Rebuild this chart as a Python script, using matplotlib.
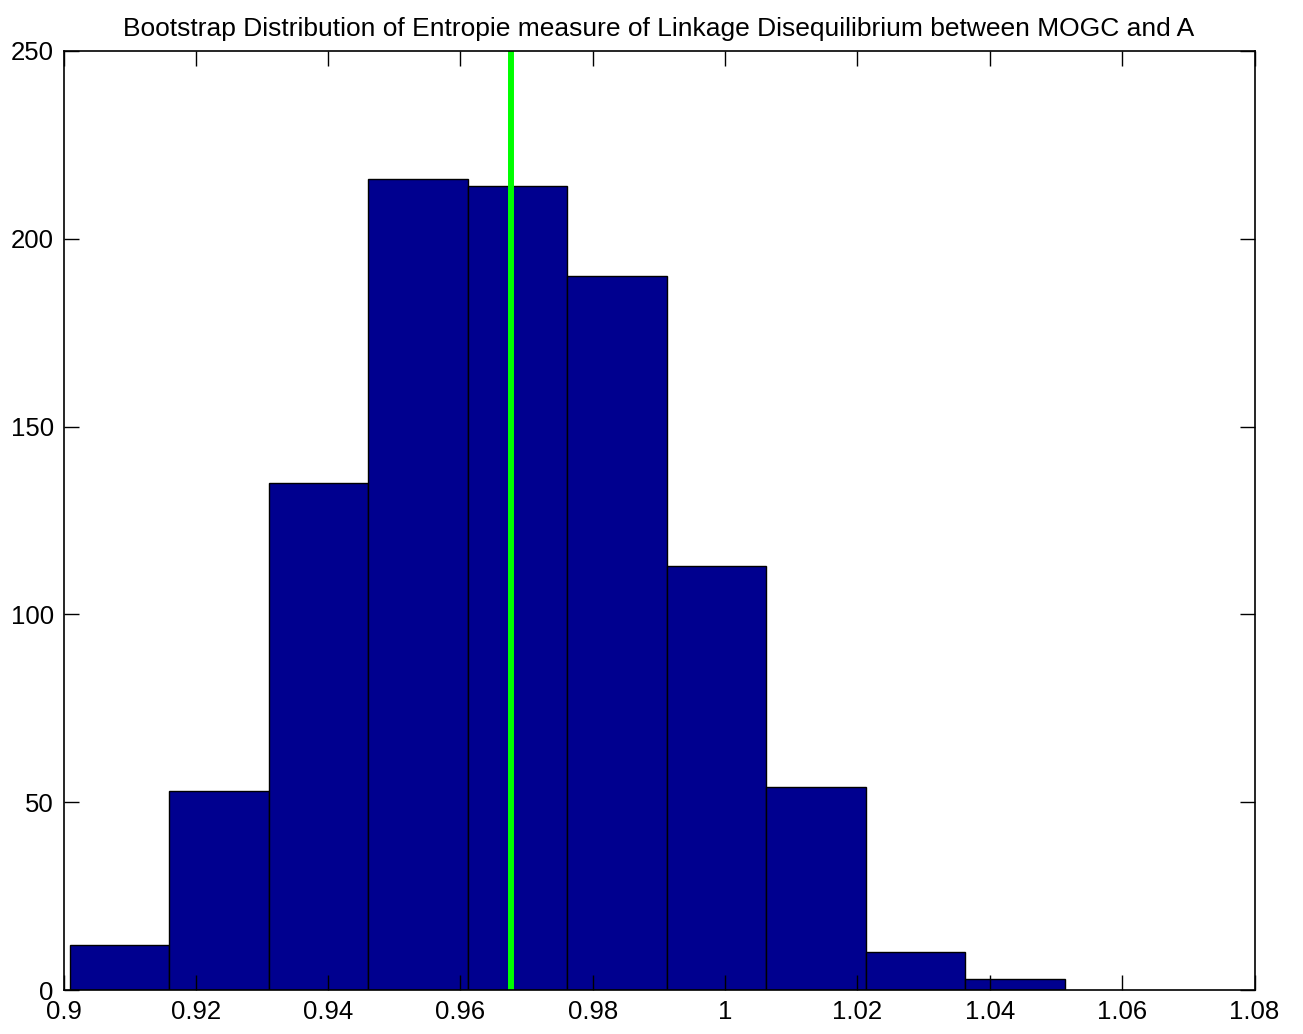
import matplotlib
matplotlib.use("Agg")
import matplotlib.pyplot as plt
import numpy as np

plt.rcParams['font.family'] = ['Liberation Sans', 'DejaVu Sans']

# histogram of bootstrap values (10 bins)
bin_lo = 0.90098
bin_hi = 1.05136
counts = [12, 53, 135, 216, 214, 190, 113, 54, 10, 3]
observed = 0.9676

xticks = [0.9, 0.92, 0.94, 0.96, 0.98, 1.0, 1.02, 1.04, 1.06, 1.08]
xticklabels = ['0.9', '0.92', '0.94', '0.96', '0.98', '1', '1.02', '1.04', '1.06', '1.08']
yticks = [0, 50, 100, 150, 200, 250]

edges = np.linspace(bin_lo, bin_hi, len(counts) + 1)
width = edges[1] - edges[0]

fig = plt.figure(figsize=(13.03, 10.34), dpi=100)
ax = fig.add_axes([63.5 / 1303, 1 - 990 / 1034, (1254.5 - 63.5) / 1303, (990 - 51) / 1034])

ax.bar(edges[:-1], counts, width=width, align='edge', color='#00008f',
       edgecolor='black', linewidth=1.0)
ax.axvline(observed, color='#00ff00', linewidth=4.3)

ax.set_xlim(0.9, 1.08)
ax.set_ylim(0, 250)
ax.set_xticks(xticks)
ax.set_xticklabels(xticklabels)
ax.set_yticks(yticks)
ax.tick_params(direction='in', length=11, width=1, top=True, right=True,
               labelsize=18.5)
ax.tick_params(axis='x', pad=7)
ax.tick_params(axis='y', pad=7)
for s in ax.spines.values():
    s.set_linewidth(1.2)

ax.set_title('Bootstrap Distribution of Entropie measure of Linkage Disequilibrium between MOGC and A',
             fontsize=19, pad=11)

fig.savefig('out.png', dpi=100)
